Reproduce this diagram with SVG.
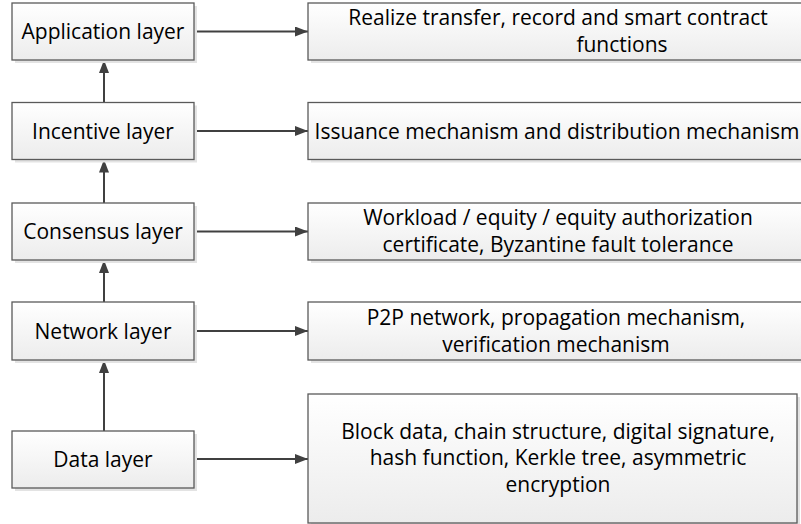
<svg xmlns="http://www.w3.org/2000/svg" width="801" height="524" viewBox="0 0 801 524">
<defs>
<linearGradient id="g" x1="0" y1="0" x2="0" y2="1">
<stop offset="0" stop-color="#ffffff"/>
<stop offset="1" stop-color="#ececec"/>
</linearGradient>
<marker id="ah" markerWidth="13" markerHeight="10" refX="13" refY="5" orient="auto" markerUnits="userSpaceOnUse">
<path d="M0,0 L13,5 L0,10 z" fill="#404040"/>
</marker>
<style>
.box{fill:url(#g);stroke:#5a5a5a;stroke-width:1.3}
.sh{fill:#e3e3e3}
.t{font-family:"Open Sans","Liberation Sans",sans-serif;font-size:21px;fill:#000;text-anchor:middle}
.c{stroke:#404040;stroke-width:2;fill:none;marker-end:url(#ah)}
</style>
</defs>
<rect width="801" height="524" fill="#ffffff"/>
<g id="connectors">
<line class="c" x1="194" y1="31.5" x2="308" y2="31.5"/>
<line class="c" x1="194" y1="131" x2="308" y2="131"/>
<line class="c" x1="194" y1="231.5" x2="308" y2="231.5"/>
<line class="c" x1="194" y1="331" x2="308" y2="331"/>
<line class="c" x1="194" y1="459" x2="308" y2="459"/>
<line class="c" x1="104" y1="431" x2="104" y2="360"/>
<line class="c" x1="104" y1="302" x2="104" y2="260"/>
<line class="c" x1="104" y1="203" x2="104" y2="159.5"/>
<line class="c" x1="104" y1="102" x2="104" y2="60"/>
</g>
<g id="app">
<rect class="sh" x="15" y="6" width="182" height="57"/>
<rect class="box" x="12" y="3" width="182" height="57"/>
<text class="t" x="103" y="39">Application layer</text>
</g>
<g id="incentive">
<rect class="sh" x="15" y="105.5" width="182" height="57"/>
<rect class="box" x="12" y="102.5" width="182" height="57"/>
<text class="t" x="103" y="138.5">Incentive layer</text>
</g>
<g id="consensus">
<rect class="sh" x="15" y="206" width="182" height="57"/>
<rect class="box" x="12" y="203" width="182" height="57"/>
<text class="t" x="103" y="239">Consensus layer</text>
</g>
<g id="network">
<rect class="sh" x="15" y="305" width="182" height="58"/>
<rect class="box" x="12" y="302" width="182" height="58"/>
<text class="t" x="103" y="338.5">Network layer</text>
</g>
<g id="data">
<rect class="sh" x="15" y="434" width="182" height="57"/>
<rect class="box" x="12" y="431" width="182" height="57"/>
<text class="t" x="103" y="466.5">Data layer</text>
</g>
<g id="app-desc">
<rect class="sh" x="311" y="6" width="500" height="57"/>
<rect class="box" x="308" y="3" width="500" height="57"/>
<text class="t" x="558" y="25">Realize transfer, record and smart contract</text>
<text class="t" x="622" y="52">functions</text>
</g>
<g id="incentive-desc">
<rect class="sh" x="311" y="105.5" width="500" height="57"/>
<rect class="box" x="308" y="102.5" width="500" height="57"/>
<text class="t" x="557" y="138.5">Issuance mechanism and distribution mechanism</text>
</g>
<g id="consensus-desc">
<rect class="sh" x="311" y="206" width="500" height="57"/>
<rect class="box" x="308" y="203" width="500" height="57"/>
<text class="t" x="558" y="225">Workload / equity / equity authorization</text>
<text class="t" x="558" y="252">certificate, Byzantine fault tolerance</text>
</g>
<g id="network-desc">
<rect class="sh" x="311" y="305" width="500" height="58"/>
<rect class="box" x="308" y="302" width="500" height="58"/>
<text class="t" x="556" y="324.5">P2P network, propagation mechanism,</text>
<text class="t" x="556" y="351.5">verification mechanism</text>
</g>
<g id="data-desc">
<rect class="sh" x="311" y="397" width="489" height="129"/>
<rect class="box" x="308" y="394" width="489" height="129"/>
<text class="t" x="558" y="438.5">Block data, chain structure, digital signature,</text>
<text class="t" x="558" y="465">hash function, Kerkle tree, asymmetric</text>
<text class="t" x="558" y="492">encryption</text>
</g>
</svg>
